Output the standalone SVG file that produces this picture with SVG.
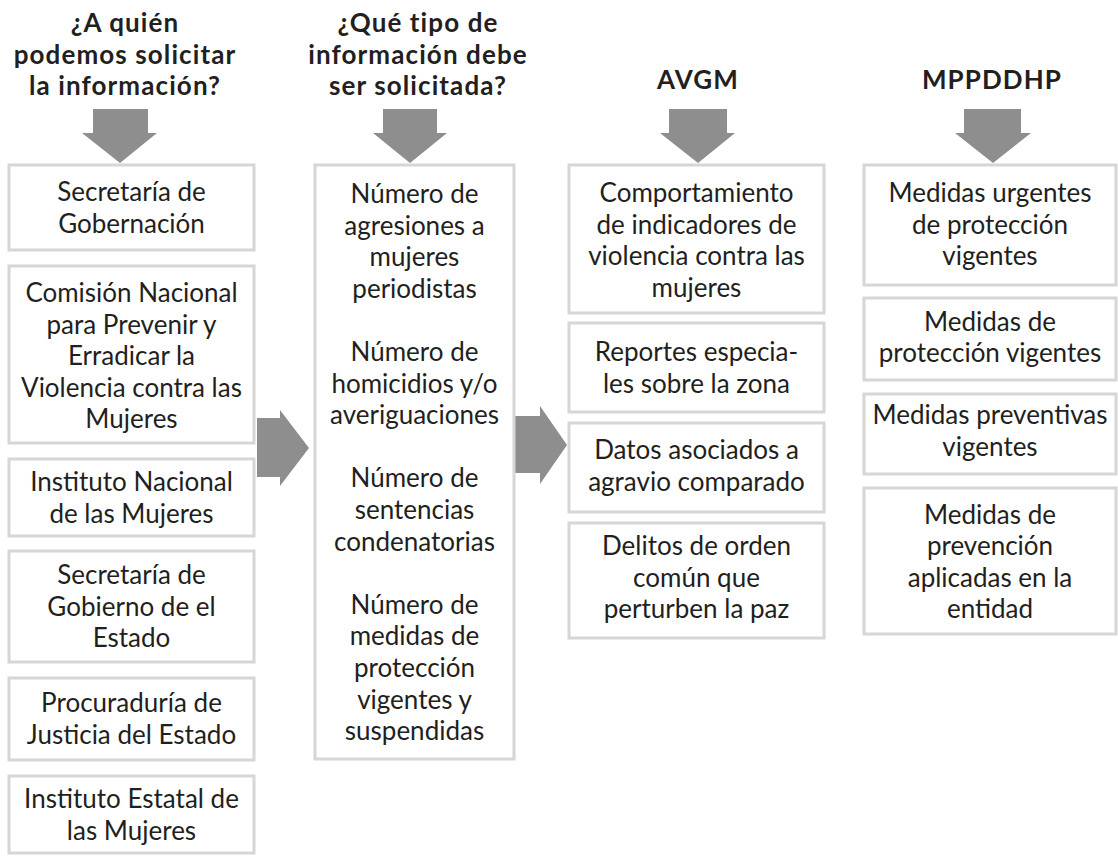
<svg xmlns="http://www.w3.org/2000/svg" width="1118" height="856" viewBox="0 0 1118 856">
<style>
.box{fill:#fff;stroke:#d6d6d6;stroke-width:3}
.arr{fill:#8e8e8e}
.t{font-family:Lato,"Noto Sans",sans-serif;font-size:26px;fill:#231f20;text-anchor:middle}
.h{font-family:Lato,"Noto Sans",sans-serif;font-size:26px;font-weight:bold;letter-spacing:1.1px;fill:#231f20;text-anchor:middle}
</style>
<rect width="1118" height="856" fill="#fff"/>
<g id="headers">
<text class="h"><tspan x="125" y="32">¿A quién</tspan><tspan x="125" y="63.5">podemos solicitar</tspan><tspan x="125" y="95">la información?</tspan></text>
<text class="h"><tspan x="418" y="32">¿Qué tipo de</tspan><tspan x="418" y="63.5">información debe</tspan><tspan x="418" y="95">ser solicitada?</tspan></text>
<text class="h" x="698" y="89">AVGM</text>
<text class="h" x="992" y="89">MPPDDHP</text>
</g>
<g id="connectors">
<polygon class="arr" points="93,109 148,109 148,133 157,133 120,163 82,133 93,133"/>
<polygon class="arr" points="383,109 437,109 437,133 447,133 410,163 373,133 383,133"/>
<polygon class="arr" points="669,109 727,109 727,133 735,133 698,163 660,133 669,133"/>
<polygon class="arr" points="964,109 1021,109 1021,133 1031,133 993,163 955,133 964,133"/>
<polygon class="arr" points="257,418 280,418 280,410 309,448 280,486 280,477 257,477"/>
<polygon class="arr" points="515,416 540,416 540,406 567,445 540,484 540,473 515,473"/>
</g>
<g id="c1n1"><rect class="box" x="9" y="165" width="245" height="85"/><text class="t"><tspan x="131.5" y="201">Secretaría de</tspan><tspan x="131.5" y="232.6">Gobernación</tspan></text></g>
<g id="c1n2"><rect class="box" x="9" y="266" width="245" height="177"/><text class="t"><tspan x="131.5" y="302">Comisión Nacional</tspan><tspan x="131.5" y="333.6">para Prevenir y</tspan><tspan x="131.5" y="365.2">Erradicar la</tspan><tspan x="131.5" y="396.8">Violencia contra las</tspan><tspan x="131.5" y="428.4">Mujeres</tspan></text></g>
<g id="c1n3"><rect class="box" x="9" y="459" width="245" height="77"/><text class="t"><tspan x="131.5" y="491">Instituto Nacional</tspan><tspan x="131.5" y="522.6">de las Mujeres</tspan></text></g>
<g id="c1n4"><rect class="box" x="9" y="551" width="245" height="111"/><text class="t"><tspan x="131.5" y="584">Secretaría de</tspan><tspan x="131.5" y="615.6">Gobierno de el</tspan><tspan x="131.5" y="647.2">Estado</tspan></text></g>
<g id="c1n5"><rect class="box" x="9" y="678" width="245" height="82"/><text class="t"><tspan x="131.5" y="712.2">Procuraduría de</tspan><tspan x="131.5" y="743.8">Justicia del Estado</tspan></text></g>
<g id="c1n6"><rect class="box" x="9" y="776" width="245" height="77"/><text class="t"><tspan x="131.5" y="808">Instituto Estatal de</tspan><tspan x="131.5" y="839.6">las Mujeres</tspan></text></g>
<g id="c2n1"><rect class="box" x="315" y="165" width="199" height="594"/><text class="t"><tspan x="414.5" y="203">Número de</tspan><tspan x="414.5" y="234.6">agresiones a</tspan><tspan x="414.5" y="266.2">mujeres</tspan><tspan x="414.5" y="297.8">periodistas</tspan><tspan x="414.5" y="361">Número de</tspan><tspan x="414.5" y="392.6">homicidios y/o</tspan><tspan x="414.5" y="424.2">averiguaciones</tspan><tspan x="414.5" y="487.4">Número de</tspan><tspan x="414.5" y="519">sentencias</tspan><tspan x="414.5" y="550.6">condenatorias</tspan><tspan x="414.5" y="613.8">Número de</tspan><tspan x="414.5" y="645.4">medidas de</tspan><tspan x="414.5" y="677">protección</tspan><tspan x="414.5" y="708.6">vigentes y</tspan><tspan x="414.5" y="740.2">suspendidas</tspan></text></g>
<g id="c3n1"><rect class="box" x="569" y="165" width="255" height="148"/><text class="t"><tspan x="696.5" y="202">Comportamiento</tspan><tspan x="696.5" y="233.6">de indicadores de</tspan><tspan x="696.5" y="265.2">violencia contra las</tspan><tspan x="696.5" y="296.8">mujeres</tspan></text></g>
<g id="c3n2"><rect class="box" x="569" y="323" width="255" height="89"/><text class="t"><tspan x="696.5" y="361">Reportes especia-</tspan><tspan x="696.5" y="392.6">les sobre la zona</tspan></text></g>
<g id="c3n3"><rect class="box" x="569" y="423" width="255" height="89"/><text class="t"><tspan x="696.5" y="459">Datos asociados a</tspan><tspan x="696.5" y="490.6">agravio comparado</tspan></text></g>
<g id="c3n4"><rect class="box" x="569" y="523" width="255" height="115"/><text class="t"><tspan x="696.5" y="555">Delitos de orden</tspan><tspan x="696.5" y="586.6">común que</tspan><tspan x="696.5" y="618.2">perturben la paz</tspan></text></g>
<g id="c4n1"><rect class="box" x="864" y="165" width="252" height="120"/><text class="t"><tspan x="990" y="202">Medidas urgentes</tspan><tspan x="990" y="233.6">de protección</tspan><tspan x="990" y="265.2">vigentes</tspan></text></g>
<g id="c4n2"><rect class="box" x="864" y="298" width="252" height="82"/><text class="t"><tspan x="990" y="330.5">Medidas de</tspan><tspan x="990" y="362.1">protección vigentes</tspan></text></g>
<g id="c4n3"><rect class="box" x="864" y="394" width="252" height="80"/><text class="t"><tspan x="990" y="424">Medidas preventivas</tspan><tspan x="990" y="455.6">vigentes</tspan></text></g>
<g id="c4n4"><rect class="box" x="864" y="488" width="252" height="146"/><text class="t"><tspan x="990" y="523.6">Medidas de</tspan><tspan x="990" y="555.2">prevención</tspan><tspan x="990" y="586.8">aplicadas en la</tspan><tspan x="990" y="618.4">entidad</tspan></text></g>
</svg>
